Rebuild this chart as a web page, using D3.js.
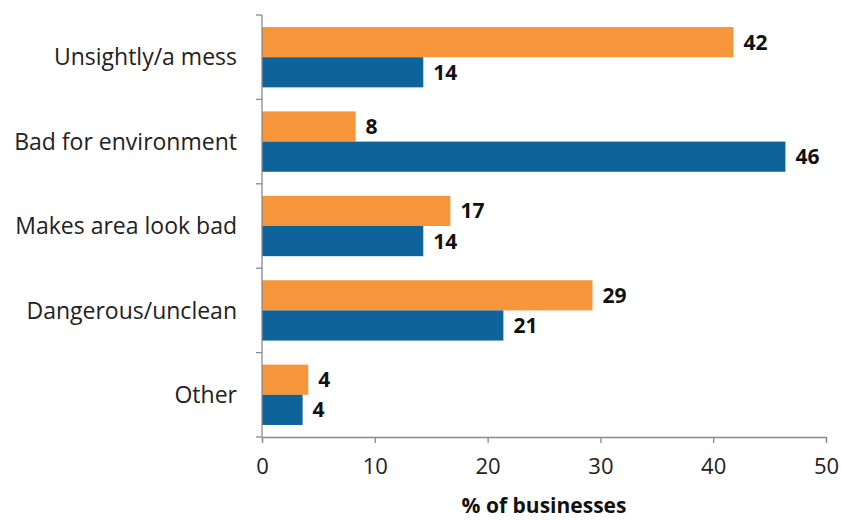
<!DOCTYPE html>
<html>
<head>
<meta charset="utf-8">
<script src="https://cdn.jsdelivr.net/npm/d3@7"></script>
<style>
  body { margin: 0; background: #fff; }
  svg text { font-family: "Open Sans", Lato, sans-serif; }
</style>
</head>
<body>
<svg id="drawing_region"></svg>
<script>
const categories = ["Unsightly/a mess", "Bad for environment", "Makes area look bad", "Dangerous/unclean", "Other"];
const orangeValues = [41.8, 8.3, 16.7, 29.3, 4.1];
const blueValues = [14.3, 46.4, 14.3, 21.4, 3.6];
const seriesNames = ["orange", "blue"];
const xTicks = [0, 10, 20, 30, 40, 50];
const xTitle = "% of businesses";

const colors = { orange: "#F7953A", blue: "#0F639B" };

const config = {
    width: 841,
    height: 520,
    margin: { top: 15, right: 15, bottom: 83, left: 262 }
};

const rows = categories.map((c, i) => ({ cat: c, orange: orangeValues[i], blue: blueValues[i] }));

const svg = d3.select("#drawing_region")
    .attr("width", config.width)
    .attr("height", config.height);

const innerH = config.height - config.margin.top - config.margin.bottom;

const chart = svg.append("g")
    .attr("transform", `translate(${config.margin.left}, ${config.margin.top})`);

const x = d3.scaleLinear().domain([0, 50]).range([0, 564]);
const y = d3.scaleBand().domain(categories).range([0, innerH]).paddingInner(0.285).paddingOuter(0.1425);
const y1 = d3.scaleBand().domain(seriesNames).range([0, y.bandwidth()]);

// bars
const groups = chart.selectAll(".grp")
    .data(rows)
    .enter()
    .append("g")
    .attr("transform", d => `translate(0, ${y(d.cat)})`);

groups.selectAll("rect")
    .data(d => seriesNames.map(s => ({ s: s, v: d[s] })))
    .enter()
    .append("rect")
    .attr("x", x(0))
    .attr("y", d => y1(d.s))
    .attr("width", d => x(d.v) - x(0))
    .attr("height", y1.bandwidth())
    .attr("fill", d => colors[d.s]);

groups.selectAll("text.val")
    .data(d => seriesNames.map(s => ({ s: s, v: d[s] })))
    .enter()
    .append("text")
    .attr("class", "val")
    .attr("x", d => x(d.v) + 10)
    .attr("y", d => y1(d.s) + y1.bandwidth() / 2)
    .attr("dy", "0.36em")
    .attr("font-size", "21px")
    .attr("font-weight", "bold")
    .attr("fill", "#111")
    .text(d => d3.format(".0f")(d.v));

// x axis
const xAxis = chart.append("g")
    .attr("transform", `translate(0, ${innerH})`)
    .call(d3.axisBottom(x).tickValues(xTicks).tickSize(6).tickPadding(15));
xAxis.select(".domain").attr("stroke", "#8a8a8a").attr("stroke-width", 1.3);
xAxis.selectAll(".tick line").attr("stroke", "#8a8a8a").attr("stroke-width", 1.3);
xAxis.selectAll(".tick text")
    .attr("font-size", "22px")
    .attr("font-family", "'Open Sans', sans-serif")
    .attr("fill", "#222");

// y axis: line with ticks at band boundaries
const boundaries = d3.range(categories.length + 1).map(i => i * innerH / categories.length);
chart.append("line")
    .attr("x1", 0).attr("x2", 0)
    .attr("y1", 0).attr("y2", innerH)
    .attr("stroke", "#8a8a8a").attr("stroke-width", 1.3);
chart.selectAll(".ytick")
    .data(boundaries)
    .enter()
    .append("line")
    .attr("x1", -6).attr("x2", 0)
    .attr("y1", d => d).attr("y2", d => d)
    .attr("stroke", "#8a8a8a").attr("stroke-width", 1.3);

chart.selectAll(".ylab")
    .data(categories)
    .enter()
    .append("text")
    .attr("x", -25)
    .attr("y", d => y(d) + y.bandwidth() / 2)
    .attr("dy", "0.36em")
    .attr("text-anchor", "end")
    .attr("font-size", "23px")
    .attr("fill", "#222")
    .text(d => d);

// axis title
svg.append("text")
    .attr("x", config.margin.left + x(25))
    .attr("y", 513)
    .attr("text-anchor", "middle")
    .attr("font-size", "21px")
    .attr("font-weight", "bold")
    .attr("fill", "#111")
    .text(xTitle);
</script>
</body>
</html>
